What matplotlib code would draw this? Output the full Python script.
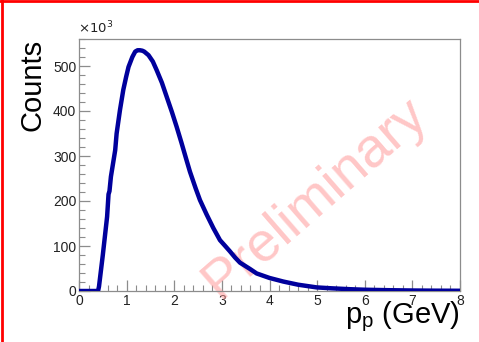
import numpy as np
import matplotlib
matplotlib.use('Agg')
from matplotlib import pyplot as plt
from matplotlib.lines import Line2D

# momentum (GeV) and counts (x10^3)
p = [0.0, 0.40, 0.42, 0.50, 0.59, 0.62, 0.64, 0.67, 0.76, 0.79, 0.86, 0.93, 0.99, 1.04, 1.12, 1.18, 1.23, 1.28,
     1.33, 1.37, 1.46, 1.55, 1.63, 1.74, 1.84, 1.95, 2.05, 2.15, 2.26, 2.33, 2.45, 2.54, 2.68, 2.82,
     2.96, 3.07, 3.17, 3.28, 3.38, 3.59, 3.73, 4.0, 4.29, 4.6, 4.99, 5.3, 5.69, 6.0, 6.5, 7.0, 7.5, 8.0]
counts = [0, 0, 10, 80, 165, 215, 222, 254, 313, 350, 402, 447, 476, 498, 520, 532, 535, 535,
          534, 532, 524, 510, 491, 463, 432, 398, 365, 330, 290, 265, 228, 202, 170, 140,
          113, 100, 88, 74, 63, 49, 39, 29, 21, 14, 8, 6, 4, 2.8, 1.8, 1.1, 0.7, 0.5]

def main():
	plt.rcParams['font.family'] = ['Liberation Sans', 'DejaVu Sans']
	fig = plt.figure(figsize=(4.79, 3.42), dpi=100)
	ax = fig.add_axes([79/479, 51/342, 381/479, 252/342])

	ax.plot(p, counts, color='#00009c', lw=3.2, solid_joinstyle='round', zorder=3)

	ax.set_xlim(0, 8)
	ax.set_ylim(0, 560)
	ax.set_xticks(np.arange(0, 9, 1))
	ax.set_xticks(np.arange(0, 8.01, 0.2), minor=True)
	ax.set_yticks(np.arange(0, 501, 100))
	ax.set_yticks(np.arange(0, 561, 20), minor=True)
	for s in ax.spines.values():
		s.set_color('#8c8c8c')
		s.set_linewidth(0.9)
	ax.tick_params(which='both', direction='in', color='#8c8c8c', top=False, right=False,
				   labelsize=10, labelcolor='#222222', pad=2)
	ax.tick_params(which='major', length=8, width=0.9)
	ax.tick_params(which='minor', length=4, width=0.8)

	ax.text(-0.003, 1.012, r'$\times10^{3}$', transform=ax.transAxes, fontsize=9.5,
			color='#222222', ha='left', va='bottom')

	# axis titles placed ROOT-style: y at the top, x at the right end
	ax.text(-0.121, 1.0, 'Counts', transform=ax.transAxes, fontsize=21,
			rotation=90, ha='center', va='top')
	ax.text(1.0, -0.035, r'p$_{\mathregular{p}}$ (GeV)', transform=ax.transAxes,
			fontsize=21, ha='right', va='top')

	ax.text(4.96, 205, 'Preliminary', color='#ff9999', alpha=0.55, fontsize=40,
			rotation=41, ha='center', va='center', rotation_mode='anchor', zorder=2)

	# red frame on top and left
	fig.add_artist(Line2D([0.004, 0.004], [0, 1], color='red', lw=2, transform=fig.transFigure))
	fig.add_artist(Line2D([0, 1], [0.997, 0.997], color='red', lw=2, transform=fig.transFigure))

	fig.savefig('out.png', dpi=100)

if __name__ == "__main__":
	main()
